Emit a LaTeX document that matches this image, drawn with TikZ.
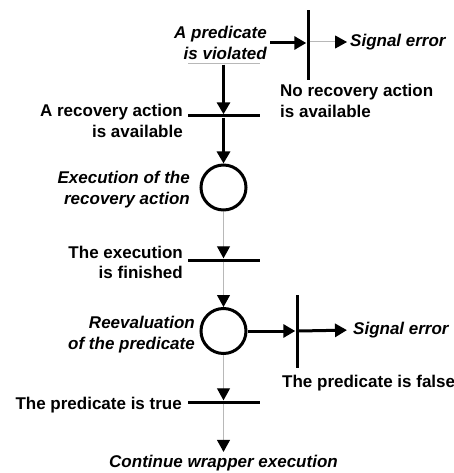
\documentclass[tikz,border=0pt]{standalone}
\usepackage{fontspec}
\setmainfont{Liberation Sans}
\usetikzlibrary{arrows.meta, positioning}

\begin{document}
\begin{tikzpicture}[
    x=1pt, y=-1pt,
    % ---------------------------------------------------------
    % STYLES
    % ---------------------------------------------------------
    every node/.style={font=\fontsize{17}{20.5}\selectfont\bfseries},
    place/.style={
        circle,
        draw=black,
        fill=white,
        line width=3pt,
        minimum size=45pt,
        inner sep=0pt
    },
    hbar/.style={
        fill=#1,
        inner sep=0pt,
        minimum width=72pt,
        minimum height=3pt
    },
    hbar/.default=black,
    vbar/.style={
        fill=black,
        inner sep=0pt,
        minimum width=3pt,
        minimum height=#1
    },
    flow/.style={
        line width=3pt,
        -{Triangle[length=12pt, width=13pt]}
    },
    weak flow/.style={
        draw=black!28,
        line width=1pt,
        -{Triangle[length=12pt, width=13pt, color=black]}
    },
    event/.style={inner sep=0pt},
    action/.style={
        font=\fontsize{17}{20.5}\selectfont\bfseries\itshape,
        inner sep=0pt
    }
]
\useasboundingbox (0,0) rectangle (454,473);

% ---------------------------------------------------------
% 1. PLACES AND TRANSITIONS (main axis x = 223.5)
% ---------------------------------------------------------
\node[hbar=black!28, minimum height=1pt] (start) at (223.5,64) {};
\node[hbar] (t1) at (223.5,116) {};
\node[place] (p1) at (223.5,187.5) {};
\node[hbar] (t2) at (223.5,260) {};
\node[place] (p2) at (223.5,331) {};
\node[hbar] (t4) at (223.5,402) {};

% side transitions
\node[vbar=70pt] (t0) at (308,45) {};
\node[vbar=73pt] (t3) at (297,331.5) {};

% ---------------------------------------------------------
% 2. LABELS
% ---------------------------------------------------------
\node[action, align=right, anchor=east] (viol) at (267,43) {A predicate\\is violated};
\node[action, anchor=west] (err1) at (350,42) {Signal error};
\node[event, align=left, anchor=west] (norec) at (280,101) {No recovery action\\is available};
\node[event, align=right, anchor=east] (rec) at (183,121) {A recovery action\\is available};
\node[action, align=right, anchor=east] (exec) at (190,189.5) {Execution of the\\recovery action};
\node[event, align=right, anchor=east] (fin) at (183,262.5) {The execution\\is finished};
\node[action, align=right, anchor=east] (reev) at (195,334.5) {Reevaluation\\of the predicate};
\node[action, anchor=west] (err2) at (353,330) {Signal error};
\node[event, anchor=west] (false) at (282,383) {The predicate is false};
\node[event, anchor=east] (true) at (182,405) {The predicate is true};
\node[action] (cont) at (223.5,463) {Continue wrapper execution};

% ---------------------------------------------------------
% 3. ARCS
% ---------------------------------------------------------
\draw[flow] (start) -- (t1.north);
\draw[flow, shorten <=3pt] (viol.east) -- (viol.east -| t0.west);
\draw[weak flow, shorten >=3pt] (t0.east |- err1.west) -- (err1.west);
\draw[flow] (t1.south) -- (p1.north);
\draw[weak flow] (p1.south) -- (t2.north);
\draw[weak flow] (t2.south) -- (p2.north);
\draw[flow] (p2.east) -- (p2.east -| t3.west);
\draw[flow, shorten >=6pt] (p2.east -| t3.east) -- (err2.west);
\draw[weak flow] (p2.south) -- (t4.north);
\draw[weak flow, shorten >=3pt] (t4.south) -- (cont.north);

\end{tikzpicture}
\end{document}
